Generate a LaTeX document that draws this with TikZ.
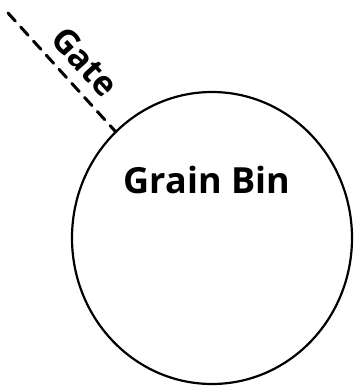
\documentclass[tikz,border=0pt]{standalone}
\usepackage{fontspec}
\setmainfont{Open Sans}
\usepackage{tikz}
\usetikzlibrary{shapes.geometric}
\tikzset{
  binWall/.style={draw, ellipse, line width=2.2pt, inner sep=0pt,
    minimum width=280pt, minimum height=292pt},
  gateLine/.style={line width=3pt, line cap=round, dash pattern=on 11pt off 8pt}
}

\begin{document}
\begin{tikzpicture}[x=1pt,y=1pt]
        \useasboundingbox (0,0) rectangle (360,392);
        \node[binWall] (bin) at (212,154) {};
        \node (binLabel) at (207,212) {\fontsize{36}{42}\selectfont\bfseries Grain Bin};
        \coordinate (gateEnd) at (8,379);
        \draw[gateLine] (gateEnd) -- (bin)
          node[pos=0.55, sloped, above=7pt] (gateLabel) {\fontsize{34}{40}\selectfont\bfseries Gate};
      \end{tikzpicture}
\end{document}
